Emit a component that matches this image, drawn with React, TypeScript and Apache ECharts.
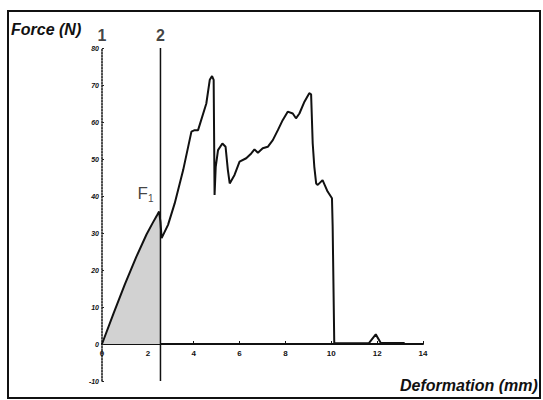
import React, { useEffect, useRef } from "react";
import * as echarts from "echarts";

const deformation = [0, 0.5, 1.0, 1.5, 1.94, 2.2, 2.4, 2.49, 2.55, 2.6, 2.88, 3.17, 3.54, 3.9, 4.04, 4.19, 4.55, 4.7, 4.8, 4.87, 4.91, 4.96, 5.06, 5.25, 5.39, 5.49, 5.57, 5.78, 6.0, 6.29, 6.51, 6.65, 6.8, 7.01, 7.23, 7.45, 7.67, 7.88, 8.1, 8.32, 8.46, 8.61, 8.83, 9.04, 9.12, 9.19, 9.26, 9.34, 9.41, 9.62, 9.84, 10.03, 10.06, 10.13, 11.65, 11.94, 12.16, 13.2];
const force = [0, 8.2, 16.2, 23.6, 29.6, 32.6, 34.8, 35.8, 33, 28.6, 32.2, 38, 47, 57.4, 57.8, 57.8, 65, 71.4, 72.4, 71.4, 40.3, 47.9, 52.4, 54.2, 53.3, 47, 43.4, 45.7, 49.3, 50.2, 51.5, 52.6, 51.7, 52.9, 53.3, 55.1, 57.8, 60.5, 62.8, 62.3, 61, 62.3, 65.5, 67.8, 67.5, 54.2, 47.9, 43.4, 43, 44.3, 41.2, 39.4, 31.7, 0.2, 0.3, 2.6, 0.3, 0.3];

// energy area up to line 2
const fillEndX = 2.55;
// vertical markers "1" (the force axis) and "2"
const markerX = [0, 2.55];
const markerLabels = ["1", "2"];
const markerTop = 80;
const markerBottom = -10;
// F1 point
const f1Point = [2.49, 35.8];

const xTicks = [0, 2, 4, 6, 8, 10, 12, 14];
const yMin = -10;
const yMax = 80;
const yStep = 10;

export default function App() {
  const ref = useRef<HTMLDivElement>(null);
  useEffect(() => {
    if (!ref.current) return;
    const chart = echarts.init(ref.current, null, { renderer: "svg" });
    const curve = deformation.map((x, i) => [x, force[i]]);
    const fill = curve.filter((p) => p[0] <= fillEndX);
    const font = "'Liberation Sans', Arial, sans-serif";
    const gridTop = 48;
    const gridHeight = 333;
    // distance from bottom of grid to y = 0
    const zeroOffset = (gridHeight * (0 - yMin)) / (yMax - yMin);
    chart.setOption({
      animation: false,
      backgroundColor: "#fff",
      grid: { left: 102, top: gridTop, width: 321, height: gridHeight, containLabel: false },
      xAxis: {
        type: "value",
        min: xTicks[0],
        max: xTicks[xTicks.length - 1],
        interval: 2,
        offset: -zeroOffset,
        splitLine: { show: false },
        axisLine: { onZero: false, lineStyle: { color: "#111", width: 2 } },
        axisTick: { show: true, inside: true, length: 3, lineStyle: { color: "#111" } },
        axisLabel: { color: "#111", fontSize: 8, fontWeight: "bold", fontFamily: font, margin: 5 },
      },
      yAxis: {
        type: "value",
        min: yMin,
        max: yMax,
        interval: yStep,
        splitLine: { show: false },
        axisLine: { show: true, onZero: false, lineStyle: { color: "#111", width: 1.5, type: "dotted" } },
        axisTick: { show: true, inside: true, length: 2, lineStyle: { color: "#222" } },
        axisLabel: { color: "#111", fontSize: 7, fontFamily: font, margin: 3, fontStyle: "italic", fontWeight: "bold" },
      },
      series: [
        {
          type: "line",
          data: fill,
          showSymbol: false,
          lineStyle: { width: 0 },
          areaStyle: { color: "#d2d2d2", opacity: 1 },
          z: 1,
        },
        {
          type: "line",
          data: [
            [markerX[1], markerTop],
            [markerX[1], markerBottom],
          ],
          showSymbol: false,
          lineStyle: { color: "#111", width: 1.5 },
          z: 3,
        },
        {
          type: "line",
          data: curve,
          showSymbol: false,
          lineStyle: { color: "#111", width: 2 },
          z: 4,
        },
        {
          type: "scatter",
          symbolSize: 1,
          itemStyle: { color: "rgba(0,0,0,0)" },
          data: markerX.map((x, i) => ({ value: [x, markerTop], name: markerLabels[i] })),
          label: {
            show: true,
            position: "top",
            distance: 4,
            formatter: (p: any) => p.name,
            color: "#111",
            fontSize: 16,
            fontWeight: "bold",
            fontFamily: font,
          },
          z: 5,
        },
        {
          type: "scatter",
          symbolSize: 1,
          itemStyle: { color: "rgba(0,0,0,0)" },
          data: [{ value: f1Point, name: "F1" }],
          label: {
            show: true,
            position: [-21, -28],
            align: "left",
            verticalAlign: "top",
            color: "#111",
            formatter: "{a|F}{b|1}",
            rich: {
              a: { fontSize: 17, color: "#111", fontFamily: font },
              b: { fontSize: 10, color: "#111", fontFamily: font, padding: [10, 0, 0, 0] },
            },
          },
          z: 5,
        },
      ],
      graphic: [
        {
          type: "rect",
          shape: { x: 8, y: 11, width: 532, height: 387 },
          style: { fill: "none", stroke: "#111", lineWidth: 2 },
          silent: true,
        },
        {
          type: "text",
          x: 11,
          y: 21,
          style: { text: "Force (N)", fill: "#111", font: `italic bold 16px ${font}` },
        },
        {
          type: "text",
          x: 400,
          y: 377,
          style: { text: "Deformation (mm)", fill: "#111", font: `italic bold 16px ${font}` },
        },
      ],
    });
    return () => chart.dispose();
  }, []);
  return (
    <div
      ref={ref}
      style={{ position: "fixed", left: 0, top: 0, width: 543, height: 400 }}
    />
  );
}
